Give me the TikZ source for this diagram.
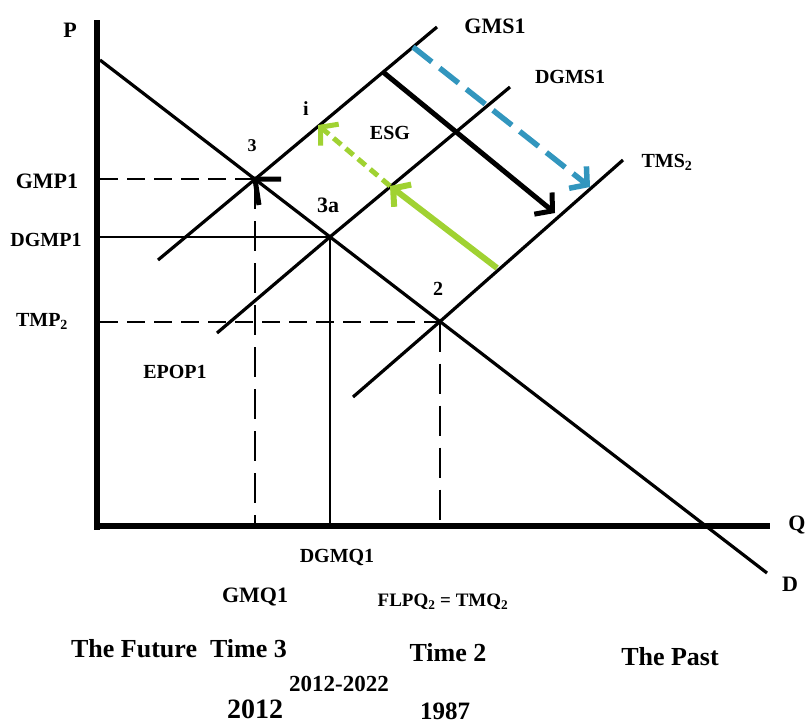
\documentclass[tikz,border=0pt]{standalone}
\usepackage{fontspec}
\setmainfont{Liberation Serif}
\usetikzlibrary{arrows.meta}
\definecolor{esgblue}{RGB}{50,150,190}
\definecolor{esggreen}{RGB}{160,210,50}
\begin{document}
\begin{tikzpicture}[x=1pt,y=-1pt,
  lbl/.style={font=\bfseries\fontsize{20}{22}\selectfont, inner sep=0pt},
  lblb/.style={font=\bfseries\fontsize{22}{24}\selectfont, inner sep=0pt},
  biglbl/.style={font=\bfseries\fontsize{26}{28}\selectfont, inner sep=0pt},
  axisline/.style={line width=6.5pt},
  curveline/.style={line width=3.2pt},
  guide/.style={line width=2pt},
  hdash/.style={guide, dash pattern=on 18pt off 9pt},
  vdash/.style={guide, dash pattern=on 30pt off 12pt},
  barb/.style={-{Straight Barb[length=12pt,width=28pt]}},
]
\useasboundingbox (0,0) rectangle (810,726);

% axes
\coordinate (Ptop) at (97,20);
\coordinate (Obot) at (97,529.5);
\coordinate (Oleft) at (94,526);
\coordinate (Qend) at (770,526);
\draw[axisline] (Ptop) -- (Obot);
\draw[axisline] (Oleft) -- (Qend);

% demand
\coordinate (Dstart) at (100,60);
\coordinate (Dend) at (767,573);
\coordinate (E3) at (255,179.2);
\coordinate (E3a) at (330,236.9);
\coordinate (E2) at (440,321.5);
\draw[curveline] (Dstart) -- (Dend);

% supplies
\coordinate (GMlo) at (158,260);
\coordinate (GMhi) at (437,27);
\coordinate (DGlo) at (217,333);
\coordinate (DGhi) at (510,87);
\coordinate (TMlo) at (353,397);
\coordinate (TMhi) at (623,160);
\draw[curveline] (GMlo) -- (E3) -- (GMhi);
\draw[curveline] (DGlo) -- (E3a) -- (DGhi);
\draw[curveline] (TMlo) -- (E2) -- (TMhi);

% guide lines
\coordinate (yGMP) at (100,179.2);
\coordinate (yDGMP) at (100,236.9);
\coordinate (yTMP) at (100,321.5);
\coordinate (xGMQ) at (255,523);
\coordinate (xDGMQ) at (330,523);
\coordinate (xTMQ) at (440,523);
\draw[hdash] (yGMP) -- (E3);
\draw[guide] (yDGMP) -- (E3a);
\draw[hdash] (yTMP) -- (E2);
\draw[vdash] (E3) -- (xGMQ);
\draw[guide] (E3a) -- (xDGMQ);
\draw[vdash] (E2) -- (xTMQ);

% arrows
\coordinate (bkS) at (383,72);
\coordinate (bkE) at (555,213);
\coordinate (blS) at (413,47);
\coordinate (blE) at (590,187);
\coordinate (gS) at (497,268);
\coordinate (gM) at (390,186);
\coordinate (gE) at (318,125);
\draw[line width=5pt, barb] (bkS) -- (bkE);
\draw[line width=5.5pt, esgblue, dash pattern=on 24pt off 10pt, barb] (blS) -- (blE);
\draw[line width=6pt, esggreen, barb] (gS) -- (gM);
\draw[line width=5pt, esggreen, dash pattern=on 10pt off 6pt, barb] (gM) -- (gE);
\coordinate (m3a) at (281,179.2);
\coordinate (m3b) at (259,205);
\draw[line width=5pt, line join=miter] (m3a) -- (E3) -- (m3b);

% labels
\node[lblb] (lP) at (70,30) {P};
\node[lblb] (lQ) at (797,525) {Q};
\node[lblb] (lD) at (790,584) {D};
\node[lblb] (lGMP) at (47,181) {GMP1};
\node[lbl] (lDGMP) at (46,240) {DGMP1};
\node[lbl] (lTMP) at (42,321) {TMP\textsubscript{2}};
\node[lbl] (lEPOP) at (175,372) {EPOP1};
\node[font=\bfseries\fontsize{18}{20}\selectfont, inner sep=0pt] (l3) at (252,146) {3};
\node[lblb] (l3a) at (328,205) {3a};
\node[lbl] (li) at (306,109) {i};
\node[lbl] (lESG) at (390,133) {ESG};
\node[lbl] (l2) at (438,289) {2};
\node[lblb] (lGMS) at (495,26) {GMS1};
\node[lbl] (lDGMS) at (570,77) {DGMS1};
\node[lbl] (lTMS) at (667,162) {TMS\textsubscript{2}};
\node[lbl] (lDGMQ) at (337,557) {DGMQ1};
\node[lblb] (lGMQ) at (255,597) {GMQ1};
\node[font=\bfseries\fontsize{19}{21}\selectfont, inner sep=0pt] (lFLPQ) at (443,602) {FLPQ\textsubscript{2} = TMQ\textsubscript{2}};
\node[biglbl] (lFut) at (179,649) {The Future~~Time 3};
\node[biglbl] (lT2) at (448,653) {Time 2};
\node[biglbl] (lPast) at (670,657) {The Past};
\node[font=\bfseries\fontsize{23}{25}\selectfont, inner sep=0pt] (lRange) at (339,684) {2012-2022};
\node[font=\bfseries\fontsize{28}{30}\selectfont, inner sep=0pt] (l2012) at (255,709) {2012};
\node[font=\bfseries\fontsize{25}{27}\selectfont, inner sep=0pt] (l1987) at (445,711) {1987};
\end{tikzpicture}
\end{document}
